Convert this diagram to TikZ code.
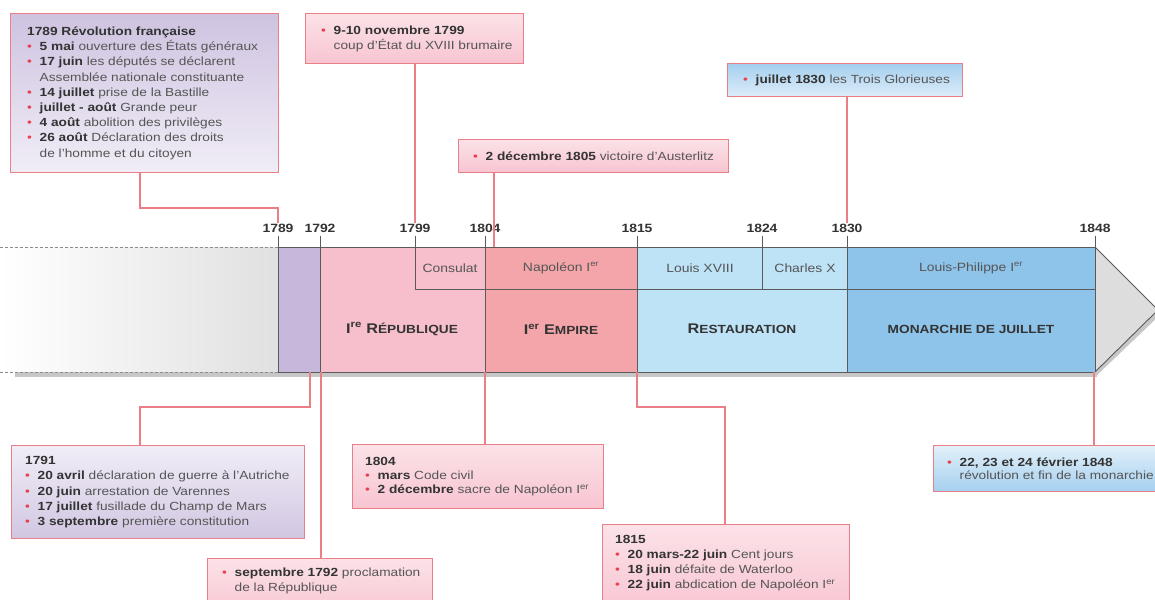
\documentclass[tikz,border=0pt]{standalone}
\usepackage{fontspec}
\setmainfont{Liberation Sans}[FakeStretch=1.16]
\usetikzlibrary{calc}
\definecolor{lav}{HTML}{C6B8DB}
\definecolor{pinkA}{HTML}{F7BFCB}
\definecolor{salm}{HTML}{F3A5AA}
\definecolor{lblue}{HTML}{BEE3F7}
\definecolor{mblue}{HTML}{8EC3EA}
\definecolor{agray}{HTML}{DDDDDD}
\definecolor{bline}{HTML}{5A5A5A}
\definecolor{boxred}{HTML}{EB7F88}
\definecolor{bulred}{HTML}{E8404F}
\definecolor{txtd}{HTML}{333333}
\definecolor{txtg}{HTML}{555555}
\newcommand\fs{\fontsize{11.8}{15.2}\selectfont}
\newcommand\bul{\makebox[12.5pt][l]{\textcolor{bulred}{\textbullet}}}
\newcommand\ind{\hspace*{12.5pt}}
\newcommand\kw[1]{\textbf{\textcolor{txtd}{#1}}}
\newcommand\fsc[1]{{\fontsize{11.8}{12}\selectfont #1}}
\tikzset{
  cbox/.style={draw=boxred, line width=1.2pt, anchor=north west, inner sep=0pt},
  ctext/.style={align=left, inner sep=0pt, font=\fs, text=txtg},
  conn/.style={draw=boxred, line width=1.3pt},
  bandln/.style={draw=bline, line width=0.9pt},
  yearlbl/.style={font=\fontsize{12}{12}\selectfont\bfseries, text=txtd, inner sep=1pt},
  toplbl/.style={font=\fontsize{12}{12}\selectfont, text=txtg},
  botlbl/.style={font=\fontsize{11.8}{12}\selectfont\bfseries, text=txtd},
  dashln/.style={draw=black!45, line width=0.9pt, dash pattern=on 3pt off 2pt},
  lavtop/.style={top color=lav!85, bottom color=lav!25},
  lavbot/.style={top color=lav!25, bottom color=lav!80},
  pinkbox/.style={top color=pinkA!45, bottom color=pinkA!120!salm},
  bluebox/.style={top color=mblue!80, bottom color=mblue!30},
  blueboxb/.style={top color=mblue!25, bottom color=mblue!80},
}
\begin{document}
\begin{tikzpicture}[x=1pt,y=-1pt]
\useasboundingbox (0,0) rectangle (1155,599);
\fill[white] (0,0) rectangle (1155,599);

% ---- timeline band ----
\shade[left color=white, right color=black!12] (0,247) rectangle (278,372);
\fill[black!22] (15,372) rectangle (1097,377);
\fill[black!22] (1095,252) -- (1160,315) -- (1095,377) -- cycle;
\draw[dashln] (0,247) -- (278,247);
\draw[dashln] (0,372) -- (278,372);
\fill[lav] (278,247) rectangle (320,372);
\fill[pinkA] (320,247) rectangle (485,372);
\fill[salm] (485,247) rectangle (637,372);
\fill[lblue] (637,247) rectangle (847,372);
\fill[mblue] (847,247) rectangle (1095,372);
\filldraw[fill=agray, draw=bline, line width=0.9pt] (1095,247) -- (1158,310) -- (1095,372);
\draw[bandln] (278,247) -- (1095,247);
\draw[bandln] (278,372) -- (1095,372);
\draw[bandln] (415,289) -- (1095,289);
\foreach \x/\e in {278/372,320/372,415/289,485/372,637/372,762/289,847/372,1095/372}
  \draw[bandln] (\x,236) -- (\x,\e);

% year labels
\node[yearlbl] (l1789) at (278,228) {1789};
\node[yearlbl] (l1792) at (320,228) {1792};
\node[yearlbl] (l1799) at (415,228) {1799};
\node[yearlbl] (l1804) at (485,228) {1804};
\node[yearlbl] (l1815) at (637,228) {1815};
\node[yearlbl] (l1824) at (762,228) {1824};
\node[yearlbl] (l1830) at (847,228) {1830};
\node[yearlbl] (l1848) at (1095,228) {1848};

% band labels
\node[toplbl] (consulat) at (450,268) {Consulat};
\node[toplbl] (napoleon) at (561,268) {Napoléon I\textsuperscript{er}};
\node[toplbl] (louis18) at (700,268) {Louis XVIII};
\node[toplbl] (charles10) at (805,268) {Charles X};
\node[toplbl] (louisph) at (971,268) {Louis-Philippe I\textsuperscript{er}};
\node[botlbl] (republique) at (402,329) {{\fontsize{14}{14}\selectfont I\textsuperscript{re} R}\fsc{ÉPUBLIQUE}};
\node[botlbl] (empire) at (561,329) {{\fontsize{14}{14}\selectfont I\textsuperscript{er} E}\fsc{MPIRE}};
\node[botlbl] (restauration) at (742,329) {{\fontsize{14}{14}\selectfont R}\fsc{ESTAURATION}};
\node[botlbl] (monarchie) at (971,329) {MONARCHIE DE JUILLET};

% coordinates for connector ends
\coordinate (k1789) at (278,208);
\coordinate (k494) at (494,247);
\coordinate (e1791) at (310,407);
\coordinate (t1791) at (310,372);
\coordinate (t1792) at (321,372);
\coordinate (t1804) at (485,372);
\coordinate (t1815) at (637,372);
\coordinate (e1815) at (725,407);
\coordinate (t1848) at (1094,372);

% ---- callout boxes ----
\node[cbox, lavtop, minimum width=268pt, minimum height=159pt] (b1) at (10,13) {};
\node[ctext, anchor=west] (t1) at ([xshift=17pt]b1.west) {%
\kw{1789 Révolution française}\\
\bul\kw{5 mai} ouverture des États généraux\\
\bul\kw{17 juin} les députés se déclarent\\
\ind Assemblée nationale constituante\\
\bul\kw{14 juillet} prise de la Bastille\\
\bul\kw{juillet - août} Grande peur\\
\bul\kw{4 août} abolition des privilèges\\
\bul\kw{26 août} Déclaration des droits\\
\ind de l'homme et du citoyen};

\node[cbox, pinkbox, minimum width=218pt, minimum height=50pt] (b2) at (305,13) {};
\node[ctext, anchor=west] (t2) at ([xshift=16pt]b2.west) {%
\bul\kw{9-10 novembre 1799}\\
\ind coup d'État du XVIII brumaire};

\node[cbox, pinkbox, minimum width=270pt, minimum height=33pt] (b3) at (458,139) {};
\node[ctext, anchor=west] (t3) at ([xshift=15pt]b3.west) {%
\bul\kw{2 décembre 1805} victoire d'Austerlitz};

\node[cbox, bluebox, minimum width=235pt, minimum height=33pt] (b4) at (727,63) {};
\node[ctext, anchor=west] (t4) at ([xshift=16pt]b4.west) {%
\bul\kw{juillet 1830} les Trois Glorieuses};

\node[cbox, lavbot, minimum width=293pt, minimum height=93pt] (b5) at (11,445) {};
\node[ctext, anchor=west] (t5) at ([xshift=14pt]b5.west) {%
\kw{1791}\\
\bul\kw{20 avril} déclaration de guerre à l'Autriche\\
\bul\kw{20 juin} arrestation de Varennes\\
\bul\kw{17 juillet} fusillade du Champ de Mars\\
\bul\kw{3 septembre} première constitution};

\node[cbox, pinkbox, minimum width=225pt, minimum height=60pt] (b6) at (207,558) {};
\node[ctext, anchor=north west] (t6) at ([shift={(15pt,-10pt)}]b6.north west) {%
\bul\kw{septembre 1792} proclamation\\
\ind de la République};

\node[cbox, pinkbox, minimum width=251pt, minimum height=64pt] (b7) at (352,444) {};
\node[ctext, anchor=west, font=\fontsize{11.8}{14.2}\selectfont] (t7) at ([xshift=13pt]b7.west) {%
\kw{1804}\\
\bul\kw{mars} Code civil\\
\bul\kw{2 décembre} sacre de Napoléon I\textsuperscript{er}};

\node[cbox, pinkbox, minimum width=247pt, minimum height=90pt] (b8) at (602,524) {};
\node[ctext, anchor=north west, font=\fontsize{11.8}{15}\selectfont] (t8) at ([shift={(13pt,-11pt)}]b8.north west) {%
\kw{1815}\\
\bul\kw{20 mars-22 juin} Cent jours\\
\bul\kw{18 juin} défaite de Waterloo\\
\bul\kw{22 juin} abdication de Napoléon I\textsuperscript{er}};

\node[cbox, blueboxb, minimum width=240pt, minimum height=46pt] (b9) at (933,445) {};
\node[ctext, anchor=west, font=\fontsize{11.8}{13.5}\selectfont] (t9) at ([xshift=14pt]b9.west) {%
\bul\kw{22, 23 et 24 février 1848}\\
\ind révolution et fin de la monarchie};

% ---- connectors ----
\draw[conn] ([xshift=130pt]b1.south west) |- (k1789) -- (l1789.north);
\draw[conn] (b2.south -| l1799) -- (l1799.north);
\draw[conn] (b3.south -| k494) -- (k494);
\draw[conn] (b4.south -| l1830) -- (l1830.north);
\draw[conn] ([xshift=129pt]b5.north west) |- (e1791) -- (t1791);
\draw[conn] (b6.north -| t1792) -- (t1792);
\draw[conn] (b7.north -| t1804) -- (t1804);
\draw[conn] (b8.north -| e1815) -- (e1815) -| (t1815);
\draw[conn] (b9.north -| t1848) -- (t1848);
\end{tikzpicture}
\end{document}
